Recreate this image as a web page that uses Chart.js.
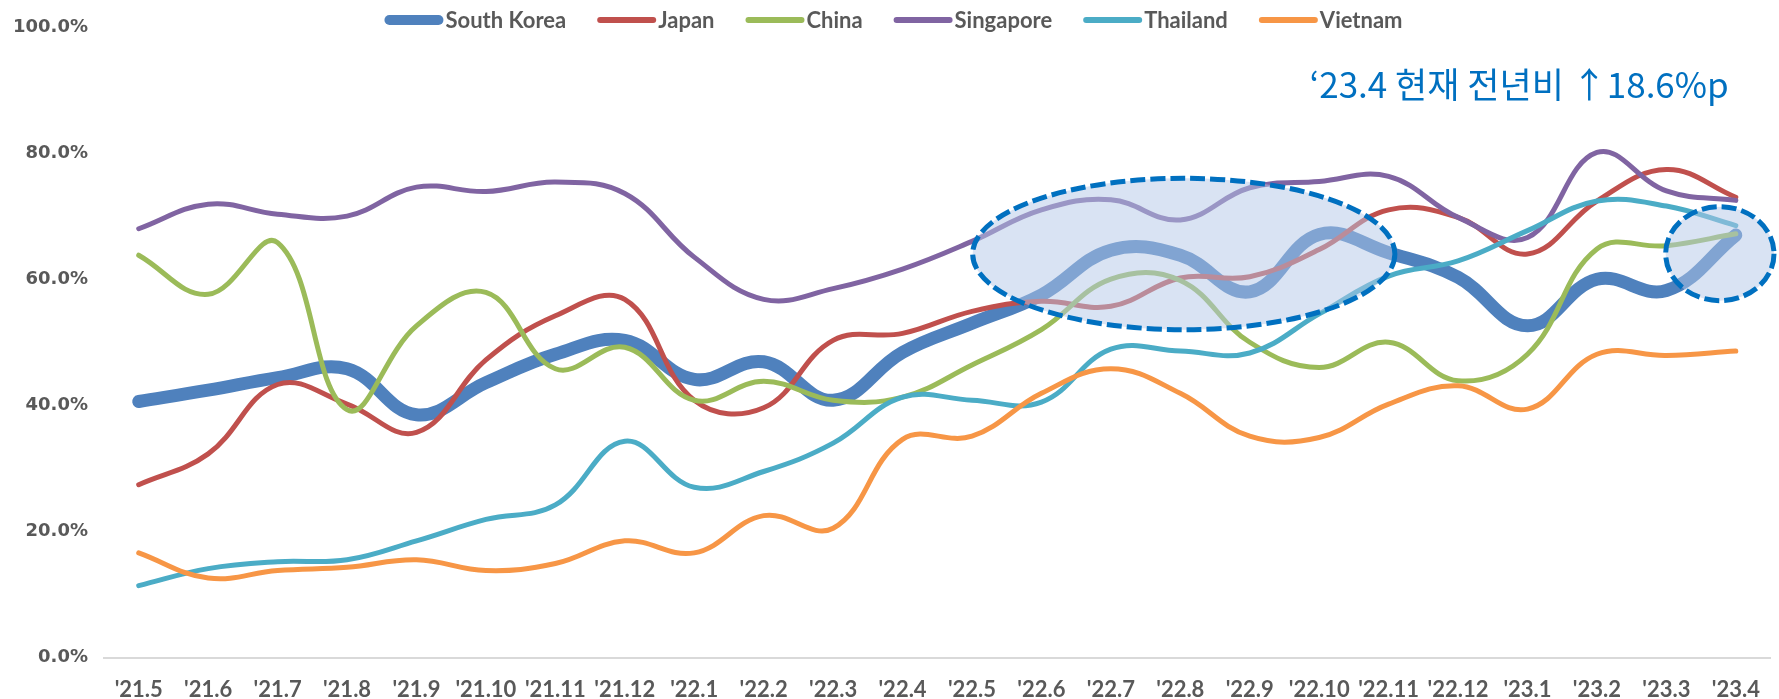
<!DOCTYPE html>
<html>
<head>
<meta charset="utf-8">
<script src="https://cdn.jsdelivr.net/npm/chart.js@4"></script>
<style>
  body { margin: 0; background: #fff; }
</style>
</head>
<body>
<canvas id="rate-chart" width="1779" height="699"></canvas>
<script>
// months on the x axis
const months = ["'21.5", "'21.6", "'21.7", "'21.8", "'21.9", "'21.10", "'21.11", "'21.12",
    "'22.1", "'22.2", "'22.3", "'22.4", "'22.5", "'22.6", "'22.7", "'22.8", "'22.9", "'22.10",
    "'22.11", "'22.12", "'23.1", "'23.2", "'23.3", "'23.4"];

// series values, in percent
const southKorea = [40.6, 42.4, 44.4, 45.8, 38.5, 43.6, 48.1, 50.3, 44.1, 46.9, 40.8, 48.4,
    53.0, 57.5, 64.6, 63.8, 58.0, 67.1, 64.2, 60.3, 52.6, 60.0, 58.2, 67.0];
const japan = [27.4, 32.3, 43.3, 40.2, 35.7, 47.2, 54.2, 56.8, 40.8, 39.6, 50.3, 51.4,
    54.9, 56.5, 55.7, 60.2, 60.4, 64.7, 71.0, 69.8, 64.0, 72.4, 77.4, 73.0];
const china = [63.8, 57.6, 65.8, 39.3, 52.6, 57.9, 45.8, 49.2, 40.8, 43.8, 40.8, 41.3,
    46.4, 52.0, 60.0, 59.8, 50.0, 46.0, 50.0, 43.9, 48.1, 64.8, 65.3, 67.2];
const singapore = [68.0, 71.9, 70.3, 70.0, 74.6, 73.9, 75.4, 73.6, 63.5, 56.8, 58.5, 61.6,
    66.0, 71.0, 72.6, 69.4, 74.5, 75.5, 76.3, 69.8, 66.6, 80.1, 74.0, 72.5];
const thailand = [11.4, 14.1, 15.2, 15.5, 18.5, 21.9, 24.2, 34.3, 27.0, 29.5, 34.0, 41.3,
    40.8, 40.5, 48.9, 48.6, 48.3, 54.5, 60.5, 62.9, 67.7, 72.4, 71.6, 68.5];
const vietnam = [16.6, 12.6, 13.8, 14.3, 15.5, 13.8, 14.9, 18.5, 16.6, 22.5, 20.5, 34.6,
    35.1, 41.9, 45.8, 41.9, 35.1, 34.9, 40.2, 43.1, 39.4, 48.1, 47.9, 48.6];

const seriesNames = ['South Korea', 'Japan', 'China', 'Singapore', 'Thailand', 'Vietnam'];
const seriesValues = [southKorea, japan, china, singapore, thailand, vietnam];
const seriesColors = ['#4F81BD', '#C0504D', '#9BBB59', '#8064A2', '#4BACC6', '#F79646'];

// y axis ticks
const yTicks = [0, 20, 40, 60, 80, 100];

const noteText = '\u201823.4 현재 전년비 \u219118.6%p';

// highlighted areas, in category index / percent units
const highlights = [
    { xCenter: 15.05, xHalf: 3.04, yCenter: 64.0, yHalf: 12.0 },
    { xCenter: 22.77, xHalf: 0.78, yCenter: 64.05, yHalf: 7.45 }
];

const grey = '#595959';

const legendPlugin = { // draws the legend row at the top
    id: 'topLegend',
    afterDraw(chart) {
        const ctx = chart.ctx;
        ctx.save();
        ctx.font = 'bold 22px Lato';
        const barLen = 59, barGap = 2, itemGap = 31;
        const widths = chart.data.datasets.map(ds => barLen + barGap + ctx.measureText(ds.label).width);
        const total = widths.reduce((a, b) => a + b, 0) + itemGap * (widths.length - 1);
        let x = chart.width / 2 - total / 2 + 4;
        const y = 20;
        chart.data.datasets.forEach((ds, i) => {
            const lw = i === 0 ? 10 : 6;
            ctx.lineCap = 'round';
            ctx.lineWidth = lw;
            ctx.strokeStyle = ds.borderColor;
            ctx.beginPath();
            ctx.moveTo(x + lw / 2, y);
            ctx.lineTo(x + barLen - lw / 2, y);
            ctx.stroke();
            ctx.fillStyle = grey;
            ctx.textBaseline = 'middle';
            ctx.textAlign = 'left';
            ctx.fillText(ds.label, x + barLen + barGap, y + 1);
            x += widths[i] + itemGap;
        });
        ctx.restore();
    }
};

const highlightPlugin = { // dashed ellipses over the lines
    id: 'highlights',
    afterDatasetsDraw(chart) {
        const ctx = chart.ctx;
        const xs = chart.scales.x, ys = chart.scales.y;
        ctx.save();
        highlights.forEach(h => {
            const cx = xs.getPixelForValue(h.xCenter);
            const rx = xs.getPixelForValue(h.xCenter + h.xHalf) - cx;
            const cy = ys.getPixelForValue(h.yCenter);
            const ry = ys.getPixelForValue(h.yCenter - h.yHalf) - cy;
            ctx.beginPath();
            ctx.ellipse(cx, cy, rx, ry, 0, 0, Math.PI * 2);
            ctx.fillStyle = 'rgba(180, 199, 231, 0.5)';
            ctx.fill();
            ctx.setLineDash([15, 5]);
            ctx.lineWidth = 5;
            ctx.strokeStyle = '#0070C0';
            ctx.stroke();
        });
        ctx.restore();
    }
};

const notePlugin = { // blue note in the top right
    id: 'note',
    afterDraw(chart) {
        const ctx = chart.ctx;
        ctx.save();
        ctx.font = '35px "Noto Sans CJK KR"';
        ctx.fillStyle = '#0070C0';
        ctx.textAlign = 'left';
        ctx.textBaseline = 'alphabetic';
        ctx.fillText(noteText, chart.chartArea.right - 461, 98);
        ctx.restore();
    }
};

new Chart(document.querySelector('#rate-chart').getContext('2d'), {
    type: 'line',
    data: {
        labels: months,
        datasets: seriesNames.map((name, i) => ({
            label: name,
            data: seriesValues[i],
            borderColor: seriesColors[i],
            backgroundColor: seriesColors[i],
            borderWidth: i === 0 ? 13 : 5,
            tension: 0.4,
            pointRadius: 0,
            borderCapStyle: 'round',
            borderJoinStyle: 'round',
            order: seriesNames.length - i // South Korea drawn first, under the rest
        }))
    },
    options: {
        responsive: false,
        animation: false,
        devicePixelRatio: 1,
        layout: { padding: { top: 27, right: 5, bottom: 0, left: 0 } },
        plugins: {
            legend: { display: false },
            tooltip: { enabled: false }
        },
        scales: {
            x: {
                offset: true,
                grid: { display: false, drawTicks: false },
                border: { display: true, color: '#D9D9D9', width: 2 },
                ticks: {
                    autoSkip: false,
                    maxRotation: 0,
                    padding: 19,
                    color: grey,
                    font: { family: 'Lato', size: 22, weight: 'bold' }
                },
                afterFit(scale) { scale.height = 41.5; }
            },
            y: {
                min: yTicks[0],
                max: yTicks[yTicks.length - 1],
                afterBuildTicks(scale) { scale.ticks = yTicks.map(v => ({ value: v })); },
                grid: { display: false, drawTicks: false },
                border: { display: false },
                ticks: {
                    padding: 16,
                    color: grey,
                    font: { family: 'DejaVu Sans', size: 18, weight: 'bold' },
                    callback: v => v.toFixed(1) + '%'
                },
                afterFit(scale) { scale.width = 104; }
            }
        }
    },
    plugins: [highlightPlugin, legendPlugin, notePlugin]
});
</script>
</body>
</html>
